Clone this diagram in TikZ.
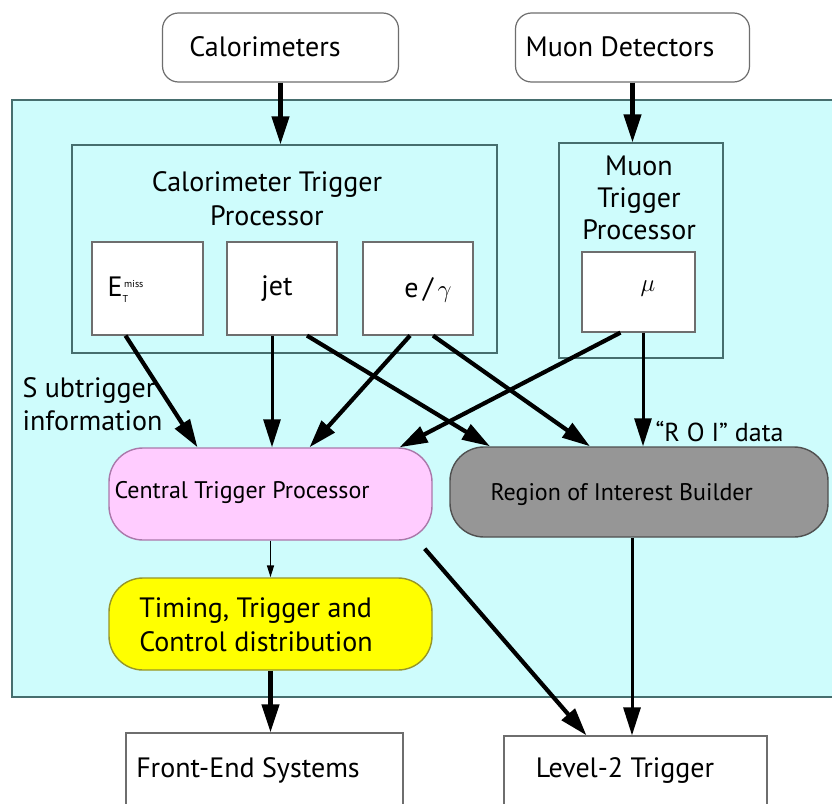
\documentclass[tikz,border=0pt]{standalone}
\usepackage{fontspec}
\setmainfont{PT Sans}
\usetikzlibrary{arrows.meta,calc}
\definecolor{cyanbg}{RGB}{206,252,252}
\definecolor{tealline}{RGB}{70,110,110}
\definecolor{boxline}{RGB}{110,110,110}
\definecolor{ctpfill}{RGB}{255,204,255}
\definecolor{ctpline}{RGB}{170,120,170}
\definecolor{roifill}{RGB}{150,150,150}
\definecolor{roiline}{RGB}{80,80,80}
\definecolor{ttcfill}{RGB}{255,255,0}
\definecolor{ttcline}{RGB}{150,150,40}
\tikzset{
  fs/.style={font=\fontsize{#1}{1.2\dimexpr#1pt\relax}\selectfont},
  plainbox/.style={draw=boxline, line width=1.2pt, fill=white, inner sep=0pt},
  procbox/.style={draw=tealline, line width=1.2pt, inner sep=0pt},
  pill/.style={rounded corners=34pt, line width=1.4pt, inner sep=0pt, align=center},
  bigarr/.style={-{Triangle[length=28pt,width=17pt]}, line width=4.2pt},
  midarr/.style={-{Triangle[length=28pt,width=17pt]}, line width=3pt},
  smallarr/.style={-{Triangle[length=12pt,width=7pt]}, line width=1.6pt},
}
\begin{document}
\begin{tikzpicture}[x=1pt,y=-1pt]
\useasboundingbox (0,0) rectangle (832,803);
\fill[white] (0,0) rectangle (832,803);

% trigger system background
\draw[fill=cyanbg, draw=tealline, line width=1.4pt] (12,100) rectangle (845,697);

% detectors
\node[plainbox, rounded corners=16pt, minimum width=236pt, minimum height=69pt] (cal) at (280.5,47.5) {};
\node[fs=28] (callab) at (265,47) {Calorimeters};
\node[plainbox, rounded corners=16pt, minimum width=234pt, minimum height=69pt] (mud) at (632.5,47.5) {};
\node[fs=28] (mudlab) at (620,47) {Muon Detectors};

% processors
\node[procbox, minimum width=425pt, minimum height=208pt] (ctpbox) at (284.5,249) {};
\node[fs=28, align=center] (ctptitle) at (267,198.5) {Calorimeter Trigger\\Processor};
\node[procbox, minimum width=164pt, minimum height=215pt] (mtpbox) at (641,250.5) {};
\node[fs=28, align=center] (mtptitle) at (639,198) {Muon\\[-1.5pt]Trigger\\[-1.5pt]Processor};

% subtrigger boxes
\node[plainbox, minimum width=111pt, minimum height=93pt] (etm) at (147.5,288.5) {};
\node[fs=28, anchor=west] (etmlab) at (104,290) {E\rlap{\raisebox{-6pt}{\fontsize{10}{10}\selectfont T}}\raisebox{9pt}{\fontsize{10}{10}\selectfont\,miss}};
\node[plainbox, minimum width=110pt, minimum height=93pt] (jet) at (282,288.5) {};
\node[fs=28] (jetlab) at (277,289) {jet};
\node[plainbox, minimum width=110pt, minimum height=93pt] (eg) at (418,288.5) {};
\node[fs=28] (eglab) at (428,290) {e\,/\,$\gamma$};
\node[plainbox, minimum width=113pt, minimum height=80pt] (mu) at (638.5,292) {};
\node[fs=28] (mulab) at (648,289) {$\mu$};

% central units
\node[pill, draw=ctpline, fill=ctpfill, minimum width=323pt, minimum height=92pt] (ctp) at (270.5,494) {};
\node[fs=24, anchor=west] (ctplab) at (111,492) {Central Trigger Processor};
\node[pill, draw=roiline, fill=roifill, minimum width=378pt, minimum height=90pt] (roi) at (639,492) {};
\node[fs=24, anchor=west] (roilab) at (487,495) {Region of Interest Builder};
\node[pill, draw=ttcline, fill=ttcfill, minimum width=323pt, minimum height=92pt] (ttc) at (270.5,624) {};
\node[fs=28, align=left] (ttclab) at (256,625) {Timing, Trigger and\\Control distribution};

% outputs
\node[plainbox, minimum width=277pt, minimum height=80pt] (fe) at (264.5,773) {};
\node[fs=28] (felab) at (248,770) {Front-End Systems};
\node[plainbox, minimum width=263pt, minimum height=80pt] (l2) at (635.5,776) {};
\node[fs=28] (l2lab) at (625,770) {Level-2 Trigger};

% labels
\node[fs=28, align=left, anchor=west] (subinfo) at (19,404) {S ubtrigger\\[-1pt]information};
\node[fs=26, anchor=west] (roidata) at (652,432) {“R O I” data};

% connectors
\draw[bigarr] (cal.south) -- (cal.south |- ctpbox.north);
\draw[bigarr] (mud.south) -- (mud.south |- mtpbox.north);
\draw[bigarr] ([xshift=-22pt]etm.south) -- ([xshift=-73pt]ctp.north);
\draw[midarr] ([xshift=-10pt]jet.south) -- ([xshift=1.5pt]ctp.north);
\draw[bigarr] ([xshift=25pt]jet.south) -- ([xshift=-149pt]roi.north);
\draw[bigarr] ([xshift=-8pt]eg.south) -- ([xshift=39pt]ctp.north);
\draw[bigarr] ([xshift=15pt]eg.south) -- ([xshift=-49pt]roi.north);
\draw[bigarr] ([xshift=-18pt]mu.south) -- ([xshift=129pt]ctp.north);
\draw[midarr] ([xshift=4.5pt]mu.south) -- ([xshift=4pt]roi.north);
\draw[smallarr] (ctp.south) -- (ttc.north);
\draw[bigarr] (ctp.south east) ++(-8pt,-8pt) coordinate (ctpout) (ctpout) -- ([xshift=-49pt]l2.north);
\draw[midarr] ([xshift=-7pt]roi.south) -- ([xshift=-3.5pt]l2.north);
\draw[bigarr] (ttc.south) -- (ttc.south |- fe.north);
\end{tikzpicture}
\end{document}
